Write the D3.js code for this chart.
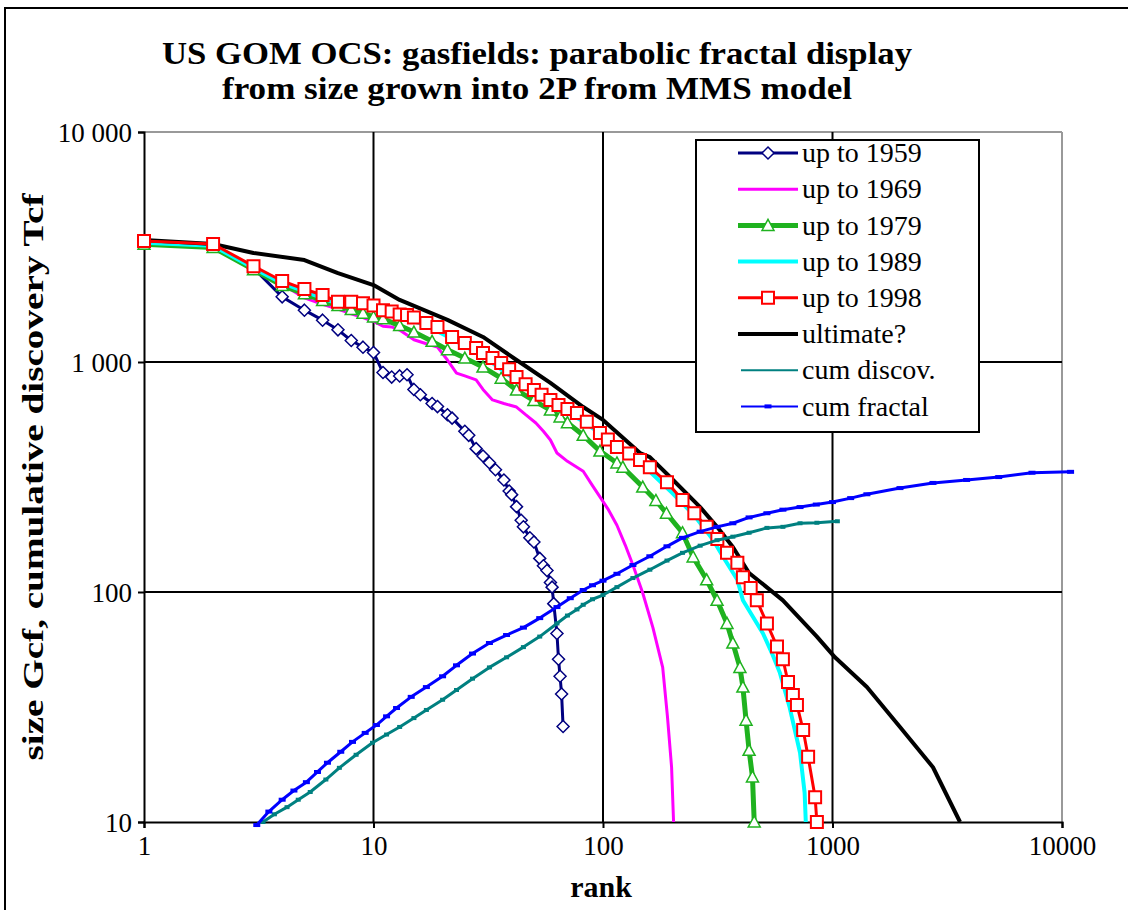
<!DOCTYPE html>
<html>
<head>
<meta charset="utf-8">
<script src="https://cdn.jsdelivr.net/npm/d3@7"></script>
<style>
  body { margin: 0; background: #fff; }
  svg { display: block; }
</style>
</head>
<body>
<script>

// rank / size pairs (size in Gcf, cum curves in Tcf)
var upTo1959 = [[1,3330],[2,3220],[3,2560],[4,1920],[5,1680],[6,1520],[7,1380],[8,1240],[9,1160],[10,1100],
  [11,900],[12,860],[13,870],[14,880],[15,760],[16,720],[18,660],[19,640],[21,590],[22,570],[25,500],[26,480],
  [28,420],[30,390],[32,365],[34,340],[37,307],[39,275],[40,265],[42,235],[44,205],[45,192],[48,172],[50,165],
  [53,140],[55,130],[57,124],[59,110],[60,105],[61,89],[63,66],[64,51],[65,43],[66,36],[67,26]];

var upTo1969 = [[1,3330],[2,3230],[3,2570],[4,2180],[5,1900],[6,1780],[7,1700],[8,1620],[9,1560],[10,1500],
  [11,1430],[12,1420],[13,1377],[15,1250],[17,1200],[19,1160],[21,1020],[23,895],[25,870],[28,836],[30,760],
  [33,684],[37,660],[42,637],[46,590],[51,543],[55,500],[59,458],[63,402],[70,370],[82,335],[90,290],[97,259],
  [105,230],[115,195],[125,160],[135,131],[149,99],[165,70],[182,47],[191,28.6],[199,17.3],[203,10]];

var upTo1979 = [[1,3250],[2,3150],[3,2520],[4,2150],[5,1980],[6,1850],[7,1760],[8,1690],[9,1630],[10,1570],
  [11,1540],[13,1440],[15,1350],[18,1230],[21,1130],[25,1040],[30,950],[36,850],[42,755],[50,680],[59,618],
  [65,577],[70,545],[82,480],[97,410],[115,364],[122,349],[149,286],[170,250],[189,220],[222,181],[247,142],
  [283,113],[314,92],[347,73],[368,60],[395,47],[407,38.6],[420,27.7],[433,20.5],[448,15.7],[456,10]];

var upTo1989 = [[1,3300],[2,3200],[3,2560],[4,2200],[5,2030],[7,1790],[10,1720],[13,1580],[17,1440],[22,1260],
  [30,1060],[42,830],[59,660],[80,560],[107,458],[150,355],[200,270],[250,215],[300,170],[334,142],[385,113],
  [407,92],[450,78],[498,66],[550,53],[590,44.5],[650,31.6],[722,20],[756,13.4],[765,10]];

var upTo1998 = [[1,3360],[2,3260],[3,2610],[4,2250],[5,2075],[6,1955],[7,1830],[8,1830],[9,1800],[10,1760],
  [11,1680],[12,1660],[13,1610],[14,1600],[15,1560],[17,1479],[19,1420],[22,1285],[25,1210],[28,1150],[30,1095],
  [33,1040],[36,990],[39,930],[42,861],[46,800],[50,755],[54,720],[59,684],[64,650],[70,625],[77,600],[85,550],
  [97,491],[105,460],[115,427],[130,400],[145,375],[160,349],[190,300],[222,251],[250,220],[283,192],[315,170],
  [347,148],[385,134],[407,116],[440,104],[468,92],[518,73],[573,58],[608,51],[640,40.6],[672,35.7],[700,32.3],
  [745,25.1],[783,19.2],[840,12.8],[855,10]];

var ultimate = [[1,3390],[2,3260],[3,2980],[5,2775],[7,2436],[10,2160],[13,1862],[21,1524],[30,1285],[42,1020],
  [59,811],[82,637],[100,560],[145,402],[160,386],[200,310],[265,234],[314,192],[368,157],[433,121],[608,92],
  [855,64],[1025,52],[1412,38.6],[1968,25.9],[2740,17.3],[3595,10]];

var cumDiscov = [[3.3,10],[3.7,10.8],[4.2,11.6],[4.7,12.5],[5.3,13.5],[6.2,15.3],[7.1,17.2],[8.4,19.6],[9.9,22.1],
  [11.4,24],[13,25.9],[15,28.3],[17,30.7],[20,34],[23,37.5],[27,42],[32,47],[38,52],[45,57.6],[53,64],[63,73],
  [70,79],[77,84],[82,88],[90,93],[100,97],[115,105],[135,115],[160,125],[190,137],[222,148],[265,159],[314,168],
  [368,174],[433,181],[518,190],[608,192],[722,199],[855,200],[1050,203]];

var cumFractal = [[3.1,9.7],[3.5,11.1],[4,12.5],[4.5,13.7],[5.1,14.9],[5.7,16.5],[6.3,18.1],[7.2,20.2],[8.1,22.3],
  [9.2,24.4],[10.3,26.4],[11.4,28.8],[12.6,31.3],[14.6,35],[17,38.6],[20,43],[23,48],[27,54],[32,60],[38,65],
  [45,70],[53,77],[63,86],[72,94],[82,102],[90,107],[100,112],[115,120],[135,131],[160,143],[190,158],[222,172],
  [265,183],[314,192],[368,199],[433,211],[518,220],[608,228],[722,234],[850,240],[1000,246],[1200,256],[1412,266],
  [1968,283],[2740,298],[3840,307],[5300,316],[7400,330],[10900,333]];

var xTicks = [1, 10, 100, 1000, 10000];
var yTicks = [10, 100, 1000, 10000];
var yTickLabels = ["10", "100", "1 000", "10 000"];

var width = 1128, height = 910;

var svg = d3.select("body").append("svg")
    .attr("width", width)
    .attr("height", height);

// outer frame
svg.append("rect")
    .attr("x", 5).attr("y", 8)
    .attr("width", 1140).attr("height", 920)
    .attr("fill", "none")
    .attr("stroke", "#000")
    .attr("stroke-width", 2);

var x = d3.scaleLog().domain([1, 10000]).range([144, 1062]);
var y = d3.scaleLog().domain([10, 10000]).range([822, 132]);

// plot border (top/right are grey in the original)
svg.append("line").attr("x1", 144).attr("x2", 1062).attr("y1", 132).attr("y2", 132)
    .attr("stroke", "#999").attr("stroke-width", 2);
svg.append("line").attr("x1", 1062).attr("x2", 1062).attr("y1", 132).attr("y2", 822)
    .attr("stroke", "#999").attr("stroke-width", 2);

// grid
svg.append("g").selectAll("line")
    .data([10, 100, 1000])
    .enter().append("line")
    .attr("x1", function(d){ return x(d) }).attr("x2", function(d){ return x(d) })
    .attr("y1", 132).attr("y2", 822)
    .attr("stroke", "#000").attr("stroke-width", 2);

svg.append("g").selectAll("line")
    .data([100, 1000])
    .enter().append("line")
    .attr("x1", 144).attr("x2", 1062)
    .attr("y1", function(d){ return y(d) }).attr("y2", function(d){ return y(d) })
    .attr("stroke", "#000").attr("stroke-width", 2);

// axes
var xAxis = d3.axisBottom(x).tickValues(xTicks).tickFormat(d3.format("d")).tickSize(6).tickPadding(8);
var yAxis = d3.axisLeft(y).tickValues(yTicks)
    .tickFormat(function(d){ return yTickLabels[yTicks.indexOf(d)] })
    .tickSize(6).tickPadding(6);

var gx = svg.append("g").attr("transform", "translate(0,822)").call(xAxis);
var gy = svg.append("g").attr("transform", "translate(144,0)").call(yAxis);

[gx, gy].forEach(function(g){
  g.select(".domain").attr("stroke", "#000").attr("stroke-width", 2);
  g.selectAll(".tick line").attr("stroke", "#000").attr("stroke-width", 2);
  g.selectAll(".tick text")
    .attr("fill", "#000")
    .style("font-family", "'Liberation Serif', 'Times New Roman', serif")
    .style("font-size", "27px");
});
gy.selectAll(".tick text").attr("dy", "0.34em");

var line = d3.line()
    .x(function(d){ return x(d[0]) })
    .y(function(d){ return y(d[1]) });

var series = [
  {name: "up to 1959", data: upTo1959, color: "#000080", width: 3, marker: "diamond"},
  {name: "up to 1969", data: upTo1969, color: "#ff00ff", width: 3, marker: null},
  {name: "up to 1979", data: upTo1979, color: "#1fb21f", width: 5, marker: "triangle"},
  {name: "up to 1989", data: upTo1989, color: "#00ffff", width: 4, marker: null},
  {name: "ultimate?", data: ultimate, color: "#000000", width: 4, marker: null},
  {name: "up to 1998", data: upTo1998, color: "#ff0000", width: 3, marker: "square"},
  {name: "cum discov.", data: cumDiscov, color: "#008080", width: 3, marker: "small"},
  {name: "cum fractal", data: cumFractal, color: "#0000ff", width: 3, marker: "dash"}
];

var markerPath = {
  diamond: "M0,-6L6,0L0,6L-6,0Z",
  triangle: "M0,-6L6,5L-6,5Z",
  square: "M-6,-6H6V6H-6Z",
  small: "M-2.5,-2H2.5V2H-2.5Z",
  dash: "M-3.5,-2H3.5V2H-3.5Z"
};

function drawMarkers(g, s, pts) {
  if (!s.marker) return;
  var filled = (s.marker == "small" || s.marker == "dash");
  g.selectAll("path.mk")
    .data(pts)
    .enter().append("path")
    .attr("class", "mk")
    .attr("d", markerPath[s.marker])
    .attr("transform", function(d){ return "translate(" + x(d[0]) + "," + y(d[1]) + ")" })
    .attr("fill", filled ? s.color : "#fff")
    .attr("stroke", filled ? "none" : s.color)
    .attr("stroke-width", s.marker == "square" ? 2 : 1.5);
}

series.forEach(function(s){
  var g = svg.append("g");
  g.append("path")
    .datum(s.data)
    .attr("d", line)
    .attr("fill", "none")
    .attr("stroke", s.color)
    .attr("stroke-width", s.width)
    .attr("stroke-linejoin", "round");
  drawMarkers(g, s, s.data);
});

// legend
var legendOrder = ["up to 1959", "up to 1969", "up to 1979", "up to 1989", "up to 1998", "ultimate?", "cum discov.", "cum fractal"];
var legend = svg.append("g");
legend.append("rect")
    .attr("x", 696).attr("y", 140)
    .attr("width", 283).attr("height", 292)
    .attr("fill", "#fff")
    .attr("stroke", "#000")
    .attr("stroke-width", 2);

legendOrder.forEach(function(name, i){
  var s = series.filter(function(d){ return d.name == name })[0];
  var ly = 153 + i * 36.2;
  var small = (s.marker == "small" || s.marker == "dash");
  legend.append("line")
    .attr("x1", small ? 741 : 738).attr("x2", 798)
    .attr("y1", ly).attr("y2", ly)
    .attr("stroke", s.color)
    .attr("stroke-width", small ? 2 : s.width);
  if (s.marker && s.marker != "small") {
    legend.append("path")
      .attr("d", markerPath[s.marker])
      .attr("transform", "translate(768," + ly + ")")
      .attr("fill", small ? s.color : "#fff")
      .attr("stroke", small ? "none" : s.color)
      .attr("stroke-width", s.marker == "square" ? 2 : 1.5);
  }
  legend.append("text")
    .attr("x", 802).attr("y", ly)
    .attr("dy", "0.33em")
    .style("font-family", "'Liberation Serif', 'Times New Roman', serif")
    .style("font-size", "28px")
    .text(name);
});

// titles
var titleFont = "'Liberation Serif', 'Times New Roman', serif";
svg.append("text")
    .attr("x", 537).attr("y", 64)
    .attr("text-anchor", "middle")
    .attr("textLength", 750).attr("lengthAdjust", "spacingAndGlyphs")
    .style("font-family", titleFont).style("font-size", "32px").style("font-weight", "bold")
    .text("US GOM OCS: gasfields: parabolic fractal display");
svg.append("text")
    .attr("x", 537).attr("y", 99)
    .attr("text-anchor", "middle")
    .attr("textLength", 630).attr("lengthAdjust", "spacingAndGlyphs")
    .style("font-family", titleFont).style("font-size", "32px").style("font-weight", "bold")
    .text("from size grown into 2P from MMS model");

svg.append("text")
    .attr("x", 601).attr("y", 897)
    .attr("text-anchor", "middle")
    .style("font-family", titleFont).style("font-size", "30px").style("font-weight", "bold")
    .text("rank");

svg.append("text")
    .attr("transform", "translate(43,477) rotate(-90)")
    .attr("text-anchor", "middle")
    .attr("textLength", 567).attr("lengthAdjust", "spacingAndGlyphs")
    .style("font-family", titleFont).style("font-size", "30px").style("font-weight", "bold")
    .text("size Gcf, cumulative discovery Tcf");

</script>
</body>
</html>
